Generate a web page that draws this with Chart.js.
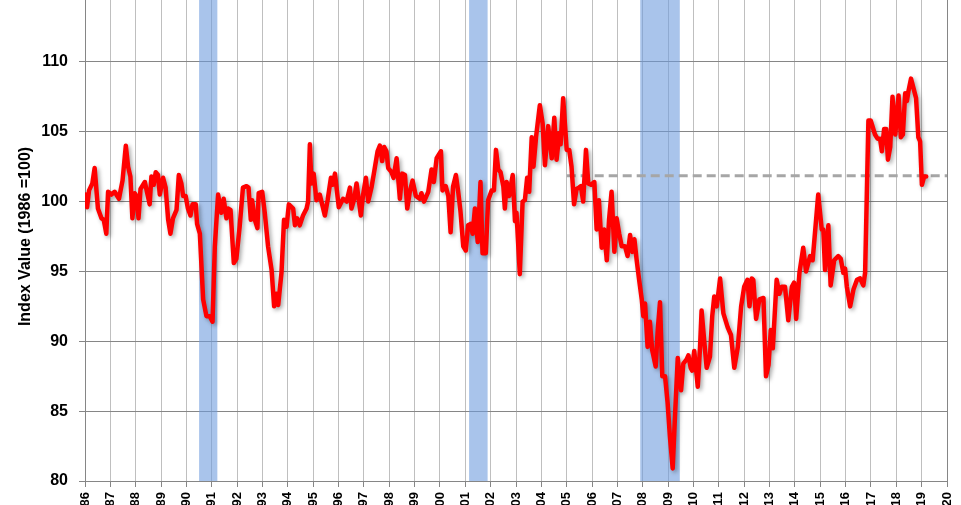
<!DOCTYPE html>
<html>
<head>
<meta charset="utf-8">
<script src="https://cdn.jsdelivr.net/npm/chart.js@4"></script>
<style>
  html, body { margin: 0; padding: 0; overflow: hidden; background: #fff; }
  #wrap { position: relative; width: 961px; height: 505px; overflow: hidden; }
  #chart { position: absolute; left: 0; top: -8px; }
</style>
</head>
<body>
<div id="wrap"><canvas id="chart" width="961" height="519"></canvas></div>
<script>
// monthly index (decimal year, value)
var years = [
  1986.03, 1986.08, 1986.16, 1986.29, 1986.38, 1986.51, 1986.65, 1986.74, 1986.84, 1986.91,
  1987.04, 1987.17, 1987.34, 1987.48, 1987.61, 1987.70, 1987.79, 1987.87, 1987.96,
  1988.03, 1988.11, 1988.19, 1988.36, 1988.55, 1988.62, 1988.71, 1988.79, 1988.88, 1988.95,
  1989.08, 1989.18, 1989.28, 1989.37, 1989.47, 1989.61, 1989.70, 1989.80, 1989.87, 1989.97,
  1990.06, 1990.16, 1990.24, 1990.37, 1990.42, 1990.53, 1990.66, 1990.79, 1990.92,
  1991.03, 1991.12, 1991.25, 1991.38, 1991.47, 1991.58, 1991.64, 1991.74, 1991.87, 1991.97,
  1992.10, 1992.23, 1992.37, 1992.45, 1992.54, 1992.59, 1992.70, 1992.80, 1992.85, 1992.99,
  1993.09, 1993.22, 1993.36, 1993.46, 1993.55, 1993.62, 1993.75, 1993.85, 1993.95,
  1994.04, 1994.21, 1994.28, 1994.37, 1994.47, 1994.60, 1994.74, 1994.80, 1994.87, 1994.93,
  1995.02, 1995.13, 1995.26, 1995.46, 1995.57, 1995.70, 1995.77, 1995.86,
  1996.01, 1996.18, 1996.32, 1996.45, 1996.51, 1996.62, 1996.71, 1996.88, 1996.97,
  1997.08, 1997.17, 1997.30, 1997.43, 1997.54, 1997.63, 1997.72, 1997.80, 1997.89, 1997.96,
  1998.09, 1998.17, 1998.29, 1998.42, 1998.51, 1998.62, 1998.71, 1998.81, 1998.92,
  1999.05, 1999.21, 1999.27, 1999.37, 1999.54, 1999.67, 1999.76, 1999.87,
  2000.04, 2000.10, 2000.23, 2000.33, 2000.42, 2000.52, 2000.63, 2000.72, 2000.81, 2000.92,
  2001.02, 2001.11, 2001.21, 2001.29, 2001.38, 2001.49, 2001.60, 2001.68, 2001.81, 2001.90,
  2002.04, 2002.13, 2002.21, 2002.30, 2002.39, 2002.50, 2002.56, 2002.63, 2002.73, 2002.87, 2002.96,
  2003.02, 2003.15, 2003.26, 2003.35, 2003.44, 2003.52, 2003.62, 2003.69, 2003.79, 2003.94,
  2004.05, 2004.14, 2004.27, 2004.41, 2004.51, 2004.60, 2004.71, 2004.76, 2004.86,
  2005.00, 2005.10, 2005.19, 2005.29, 2005.39, 2005.48, 2005.56, 2005.65, 2005.76, 2005.85, 2005.96,
  2006.09, 2006.18, 2006.27, 2006.38, 2006.48, 2006.58, 2006.67, 2006.77, 2006.88, 2006.97,
  2007.07, 2007.17, 2007.30, 2007.40, 2007.50, 2007.59, 2007.67, 2007.76, 2007.85, 2007.96,
  2008.02, 2008.09, 2008.19, 2008.28, 2008.37, 2008.51, 2008.59, 2008.68, 2008.77, 2008.88, 2008.98,
  2009.07, 2009.18, 2009.27, 2009.38, 2009.51, 2009.60, 2009.73, 2009.80, 2009.89, 2009.95,
  2010.03, 2010.17, 2010.26, 2010.32, 2010.43, 2010.52, 2010.65, 2010.74, 2010.82, 2010.92,
  2011.05, 2011.18, 2011.35, 2011.48, 2011.61, 2011.75, 2011.88,
  2012.00, 2012.13, 2012.21, 2012.30, 2012.36, 2012.47, 2012.60, 2012.76, 2012.86, 2012.96,
  2013.05, 2013.13, 2013.28, 2013.39, 2013.48, 2013.61, 2013.74, 2013.88, 2013.97,
  2014.05, 2014.18, 2014.33, 2014.44, 2014.60, 2014.70, 2014.79, 2014.92,
  2015.06, 2015.12, 2015.19, 2015.32, 2015.41, 2015.55, 2015.71, 2015.81, 2015.91, 2015.98,
  2016.05, 2016.18, 2016.31, 2016.45, 2016.57, 2016.70, 2016.77, 2016.81, 2016.90, 2016.99,
  2017.16, 2017.26, 2017.36, 2017.43, 2017.52, 2017.60, 2017.67, 2017.76, 2017.85, 2017.96,
  2018.09, 2018.18, 2018.26, 2018.35, 2018.42, 2018.48, 2018.58, 2018.68, 2018.78, 2018.87, 2018.94,
  2019.01, 2019.10, 2019.18
];
var indexValues = [
  100.5, 99.6, 100.8, 101.3, 102.4, 99.5, 98.8, 98.7, 97.7, 100.7,
  100.5, 100.7, 100.2, 101.5, 104.0, 102.5, 101.8, 98.8, 100.6,
  100.4, 98.8, 100.9, 101.4, 99.8, 101.8, 101.2, 102.1, 101.9, 100.5,
  101.7, 101.0, 98.7, 97.7, 98.8, 99.4, 101.9, 101.3, 100.4, 100.4,
  99.5, 99.0, 99.8, 99.8, 98.4, 97.7, 93.0, 91.8, 91.8,
  91.4, 96.8, 100.5, 99.2, 100.2, 98.8, 99.5, 99.4, 95.6, 95.9,
  98.2, 101.0, 101.1, 101.0, 98.7, 100.1, 98.7, 98.1, 100.6, 100.7,
  99.2, 96.8, 95.1, 92.5, 93.4, 92.6, 94.9, 98.7, 98.2,
  99.8, 99.5, 98.3, 98.8, 98.3, 99.0, 99.5, 100.0, 104.1, 101.3,
  102.0, 100.1, 100.5, 99.0, 100.1, 101.7, 101.2, 102.0,
  99.6, 100.2, 100.0, 101.0, 99.5, 100.2, 101.3, 99.0, 100.5,
  101.7, 100.0, 101.0, 102.4, 103.6, 104.0, 102.9, 103.9, 103.6, 102.4,
  102.1, 101.7, 103.1, 100.2, 102.0, 101.9, 99.5, 100.7, 101.5,
  100.4, 100.2, 100.6, 100.0, 100.7, 102.3, 101.4, 103.1,
  103.6, 100.8, 101.1, 100.4, 97.8, 101.1, 101.9, 100.7, 99.3, 96.8,
  96.5, 98.3, 98.4, 97.7, 99.5, 97.1, 101.4, 96.3, 96.3, 100.1,
  100.8, 100.8, 103.7, 102.3, 102.1, 101.1, 99.5, 101.4, 100.4, 101.9, 98.6,
  99.2, 94.8, 100.0, 100.1, 101.7, 100.7, 104.6, 102.5, 104.6, 106.9,
  105.6, 102.6, 105.4, 103.1, 106.0, 103.0, 104.9, 104.1, 107.4,
  103.7, 103.7, 102.5, 99.8, 100.9, 101.0, 101.1, 100.0, 103.7, 101.3, 101.2,
  101.4, 98.0, 100.1, 96.7, 98.0, 95.8, 98.7, 100.7, 96.4, 98.8,
  97.7, 96.8, 96.8, 96.1, 97.6, 96.4, 97.3, 95.8, 94.5, 93.0,
  91.8, 92.7, 89.6, 91.4, 89.4, 88.2, 90.8, 92.8, 87.5, 87.5, 85.6,
  83.2, 80.9, 84.6, 88.8, 86.5, 88.4, 88.7, 89.0, 88.1, 87.9,
  89.3, 86.75, 89.6, 92.2, 89.9, 88.1, 88.9, 91.8, 93.2, 92.5,
  94.5, 92.0, 91.0, 90.45, 88.1, 89.6, 92.5,
  93.9, 94.4, 92.5, 94.5, 94.4, 91.6, 93.0, 93.1, 87.5, 88.3,
  90.8, 89.5, 94.4, 93.4, 93.9, 93.9, 91.5, 93.9, 94.2,
  91.6, 94.9, 96.7, 95.0, 96.1, 95.8, 97.7, 100.5,
  98.0, 98.0, 95.1, 98.3, 94.0, 95.8, 96.1, 95.9, 94.9, 95.2,
  93.9, 92.5, 93.7, 94.4, 94.5, 94.0, 94.9, 98.2, 105.8, 105.8,
  104.8, 104.5, 104.5, 103.6, 105.2, 105.2, 103.0, 103.9, 107.5, 104.8,
  107.6, 104.6, 104.8, 107.75, 107.2, 107.9, 108.8, 108.1, 107.4, 104.6, 104.3,
  101.2, 101.8, 101.8
];

// recession shading (decimal years)
var recessionStart = [1990.5, 2001.15, 2007.9];
var recessionEnd = [1991.22, 2001.88, 2009.46];

// dashed reference level
var averageValue = 101.85;
var averageFrom = 2005.0;
var averageTo = 2020.0;

var fontName = "Liberation Sans";

var points = years.map(function (y, i) {
  return { x: y, y: indexValues[i] };
});

var recessionBands = {
  id: "recessionBands",
  beforeDatasetsDraw: function (chart) {
    var ctx = chart.ctx;
    var area = chart.chartArea;
    var xScale = chart.scales.x;
    ctx.save();
    ctx.fillStyle = "rgba(112,157,222,0.6)";
    for (var i = 0; i < recessionStart.length; i++) {
      var x0 = xScale.getPixelForValue(recessionStart[i]);
      var x1 = xScale.getPixelForValue(recessionEnd[i]);
      ctx.fillRect(x0, area.top, x1 - x0, area.bottom - area.top);
    }
    // right border of the plot area
    ctx.strokeStyle = "#868686";
    ctx.lineWidth = 1;
    ctx.beginPath();
    ctx.moveTo(Math.round(area.right) + 0.5, area.top);
    ctx.lineTo(Math.round(area.right) + 0.5, area.bottom);
    ctx.stroke();
    ctx.restore();
  }
};

var lineShadow = {
  id: "lineShadow",
  beforeDatasetDraw: function (chart, args) {
    if (args.index !== 0) return;
    var ctx = chart.ctx;
    ctx.save();
    ctx.shadowColor = "rgba(0,0,0,0.35)";
    ctx.shadowBlur = 4;
    ctx.shadowOffsetX = 2;
    ctx.shadowOffsetY = 2;
  },
  afterDatasetDraw: function (chart, args) {
    if (args.index !== 0) return;
    chart.ctx.restore();
  }
};

var ctx = document.getElementById("chart").getContext("2d");

new Chart(ctx, {
  type: "line",
  data: {
    datasets: [
      {
        data: points,
        borderColor: "#ff0000",
        borderWidth: 4.5,
        borderJoinStyle: "round",
        borderCapStyle: "round",
        pointRadius: 0,
        tension: 0,
        fill: false,
        order: 0
      },
      {
        data: [
          { x: averageFrom, y: averageValue },
          { x: averageTo, y: averageValue }
        ],
        borderColor: "#a6a6a6",
        borderWidth: 3,
        borderDash: [9, 5],
        pointRadius: 0,
        fill: false,
        order: 1
      }
    ]
  },
  options: {
    responsive: false,
    animation: false,
    devicePixelRatio: 1,
    layout: { padding: { left: 0, right: 14, top: 0, bottom: 0 } },
    plugins: {
      legend: { display: false },
      tooltip: { enabled: false }
    },
    scales: {
      x: {
        type: "linear",
        min: 1986,
        max: 2020,
        ticks: {
          stepSize: 1,
          autoSkip: false,
          minRotation: 90,
          maxRotation: 90,
          padding: 5,
          color: "#000",
          font: { family: fontName, size: 13, weight: "bold" },
          callback: function (v) {
            return String(v).slice(2);
          }
        },
        grid: { color: "#bfbfbf", tickColor: "#868686", tickLength: 6 },
        border: { color: "#868686" },
        afterFit: function (s) {
          s.height = 30;
          s.paddingLeft = 0;
          s.paddingRight = 0;
        }
      },
      y: {
        min: 80,
        max: 115,
        ticks: {
          stepSize: 5,
          padding: 11,
          color: "#000",
          font: { family: fontName, size: 16, weight: "bold" },
          callback: function (v) {
            return v === 115 ? "" : v;
          }
        },
        grid: { color: "#868686", tickColor: "#868686", tickLength: 6 },
        border: { color: "#868686" },
        title: {
          display: true,
          text: "Index Value (1986 =100)",
          color: "#000",
          font: { family: fontName, size: 16, weight: "bold" },
          padding: { top: 15.5, bottom: 0 }
        },
        afterFit: function (s) {
          s.width = 85;
          s.paddingTop = 0;
          s.paddingBottom = 0;
        }
      }
    }
  },
  plugins: [recessionBands, lineShadow]
});
</script>
</body>
</html>
